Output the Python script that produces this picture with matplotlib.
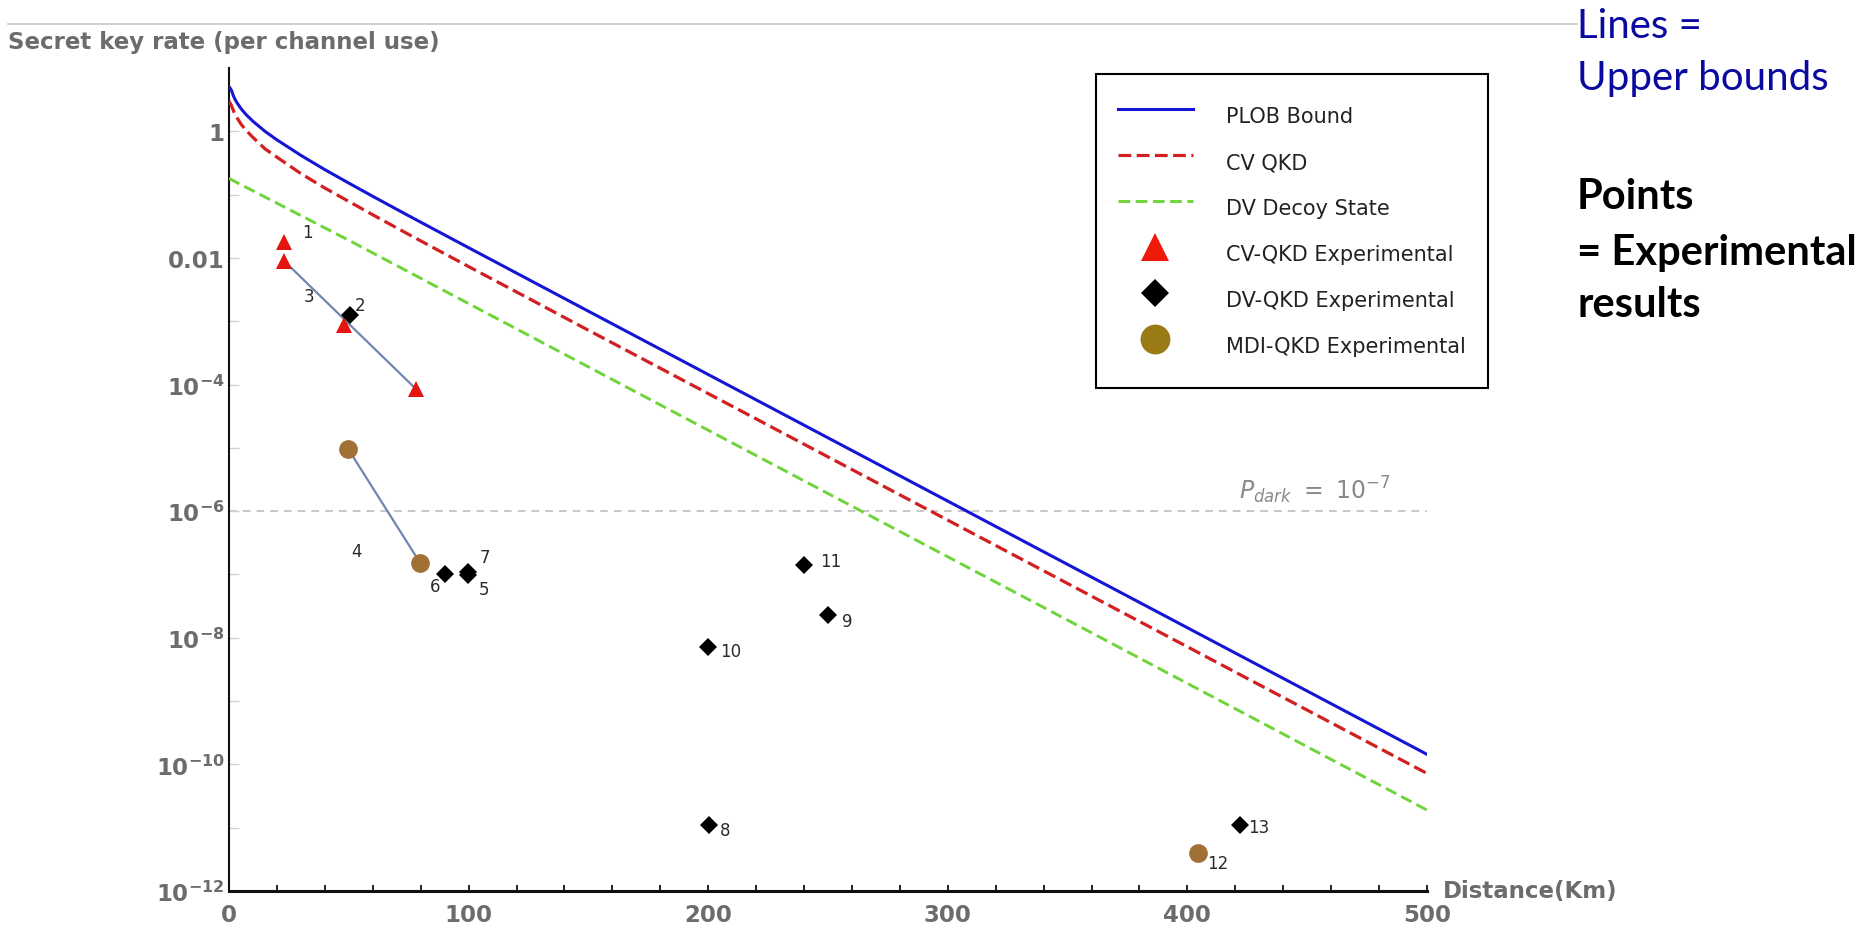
import numpy as np
import matplotlib
matplotlib.use("Agg")
import matplotlib.pyplot as plt
from matplotlib.lines import Line2D
from matplotlib.ticker import FixedLocator, MultipleLocator, NullLocator

W, H = 1869, 928

# upper bound curves (distance in km, rate per channel use)
dist_bound = [0, 1, 2, 3, 5, 7, 10, 15, 20, 30, 40, 50, 60, 75, 100, 125, 150, 200, 300, 400, 500]
rate_plob = [5.1, 4.47, 3.51, 2.95, 2.28, 1.86, 1.44, 1.0, 0.733, 0.417, 0.248, 0.152, 0.094,
             0.0463, 0.0145, 4.57e-3, 1.44e-3, 1.44e-4, 1.44e-6, 1.44e-8, 1.44e-10]
rate_cv = [3.0, 2.55, 2.05, 1.72, 1.30, 1.05, 0.80, 0.53, 0.39, 0.215, 0.127, 0.078, 0.048,
           0.0235, 7.3e-3, 2.3e-3, 7.2e-4, 7.2e-5, 7.2e-7, 7.2e-9, 7.2e-11]
dist_decoy = [0, 50, 100, 200, 300, 400, 500]
rate_decoy = [0.18, 0.019, 1.9e-3, 1.9e-5, 1.9e-7, 1.9e-9, 1.9e-11]

# experimental points
cv_dist = [23.1, 23.1, 48.1, 77.9]
cv_rate = [0.0178, 0.0089, 8.7e-4, 8.6e-5]
cv_ids = ["1", "3", None, None]

dv_dist = [50.5, 90.2, 99.9, 99.9, 200.4, 200.0, 250.1, 240.0, 421.8]
dv_rate = [1.24e-3, 1.03e-7, 1.1e-7, 9.7e-8, 1.1e-11, 7.1e-9, 2.26e-8, 1.41e-7, 1.1e-11]
dv_ids = ["2", "6", "7", "5", "8", "10", "9", "11", "13"]

mdi_dist = [49.8, 79.7, 404.4]
mdi_rate = [9.5e-6, 1.54e-7, 4.0e-12]
mdi_ids = ["4", None, "12"]

# which points are joined by a thin line
cv_link = [1, 3]
mdi_link = [0, 1]

p_dark = 1e-6

x_ticks = [0, 100, 200, 300, 400, 500]
y_tick_exp = list(range(-12, 1))

# label offsets in points (dx, dy) from the marker
LABEL_OFFSETS = {
    "1": (12.5, 7.2), "3": (14.2, -24.9), "2": (3.6, 7.7), "4": (2.2, -73.4),
    "6": (-10.8, -8.6), "7": (8.1, 10.8), "5": (7.6, -10.1), "11": (11.5, 2.9),
    "9": (9.6, -4.1), "10": (8.9, -3.1), "8": (7.9, -3.6), "13": (6.0, -1.4),
    "12": (6.8, -7.0),
}

GRAY = "#6c6c6c"
BLUE = "#1515d6"
RED = "#d21f1f"
GREEN = "#6fd43a"
TRI = "#e3150f"
BROWN = "#a07035"
LINK = "#6f86b0"


def fx(px):
    return px / W


def fy(py):
    return 1 - py / H


fig = plt.figure(figsize=(W / 100, H / 100), dpi=100)
ax = fig.add_axes([fx(229), fy(892), fx(1427) - fx(229), fy(69) - fy(892)])
ax.set_yscale("log")
ax.set_xlim(0, 500)
ax.set_ylim(1e-12, 10)

# bounds
ax.plot(dist_bound, rate_plob, color=BLUE, lw=2.2, zorder=3)
ax.plot(dist_bound, rate_cv, color=RED, lw=2.3, dashes=(4, 1.7), zorder=3)
ax.plot(dist_decoy, rate_decoy, color=GREEN, lw=2.1, dashes=(4, 1.9), zorder=3)
ax.axhline(p_dark, color="#b8b8b8", lw=1.1, dashes=(5, 4), zorder=1)
ax.text(421.5, p_dark * 1.25, r"$\mathit{P_{dark}}\ =\ \mathit{10^{-7}}$", fontsize=17,
        color="#8a8a8a", ha="left", va="bottom")

# links between experimental points
ax.plot([cv_dist[i] for i in cv_link], [cv_rate[i] for i in cv_link], color=LINK, lw=1.6, zorder=4)
ax.plot([mdi_dist[i] for i in mdi_link], [mdi_rate[i] for i in mdi_link], color=LINK, lw=1.6, zorder=4)

ax.plot(cv_dist, cv_rate, ls="none", marker="^", ms=11.5, color=TRI, mew=0, zorder=5)
ax.plot(dv_dist, dv_rate, ls="none", marker="D", ms=9.4, color="black", mew=0, zorder=6)
ax.plot(mdi_dist, mdi_rate, ls="none", marker="o", ms=13.5, color=BROWN, mew=0, zorder=5)

for ds, rs, ids in [(cv_dist, cv_rate, cv_ids), (dv_dist, dv_rate, dv_ids), (mdi_dist, mdi_rate, mdi_ids)]:
    for d, r, lab in zip(ds, rs, ids):
        if lab is None:
            continue
        ax.annotate(lab, (d, r), xytext=LABEL_OFFSETS[lab], textcoords="offset points",
                    ha="left", va="center", fontsize=12, color="#2a2a2a", zorder=7)

# axes look
for s in ["top", "right"]:
    ax.spines[s].set_visible(False)
ax.spines["left"].set_linewidth(1.5)
ax.spines["left"].set_color("#111111")
ax.spines["bottom"].set_linewidth(2.2)
ax.spines["bottom"].set_color("#111111")

ax.xaxis.set_major_locator(FixedLocator(x_ticks))
ax.xaxis.set_minor_locator(MultipleLocator(20))
ax.tick_params(axis="x", which="both", direction="in", length=4, width=1.2, color="black", pad=9)
ax.set_xticklabels([str(t) for t in x_ticks], fontsize=16.5, fontweight="bold", color=GRAY)

ylabels = []
for e in y_tick_exp:
    if e % 2:
        ylabels.append("")
    elif e == 0:
        ylabels.append("1")
    elif e == -2:
        ylabels.append("0.01")
    else:
        ylabels.append(r"$\mathbf{10^{%d}}$" % e)
ax.yaxis.set_major_locator(FixedLocator([10.0 ** e for e in y_tick_exp]))
ax.yaxis.set_minor_locator(NullLocator())
ax.set_yticklabels(ylabels, fontsize=16.5, fontweight="bold", color=GRAY)
ax.tick_params(axis="y", direction="in", length=7, width=1, color="#d0d0d0", pad=3)

ax.text(1.0134, 0, "Distance(Km)", transform=ax.transAxes, ha="left", va="center",
        fontsize=16.5, fontweight="bold", color=GRAY)
fig.text(fx(8), fy(43), "Secret key rate (per channel use)", ha="left", va="center",
         fontsize=16.5, fontweight="bold", color=GRAY)

# legend
handles = [
    Line2D([], [], color=BLUE, lw=2.2),
    Line2D([], [], color=RED, lw=2.3, dashes=(4, 1.7)),
    Line2D([], [], color=GREEN, lw=2.1, dashes=(4, 1.9)),
    Line2D([], [], ls="none", marker="^", ms=20, color="#f01a0a", mew=0),
    Line2D([], [], ls="none", marker="D", ms=14.3, color="black", mew=0),
    Line2D([], [], ls="none", marker="o", ms=21.5, color="#9b7b16", mew=0),
]
names = ["PLOB Bound", "CV QKD", "DV Decoy State", "CV-QKD Experimental",
         "DV-QKD Experimental", "MDI-QKD Experimental"]
leg = ax.legend(handles, names, loc="upper left", bbox_to_anchor=(fx(1096), fy(75)),
                bbox_transform=fig.transFigure, borderaxespad=0, fontsize=15,
                frameon=True, fancybox=False, framealpha=1, edgecolor="black",
                borderpad=1.05, handleheight=2.6, labelspacing=0.27, handlelength=3.6,
                handletextpad=1.6, numpoints=1)
leg.get_frame().set_linewidth(1.5)
for t in leg.get_texts():
    t.set_color("#222222")

# thin rule on top and the side notes
fig.add_artist(Line2D([fx(8), fx(1577)], [fy(25), fy(25)], transform=fig.transFigure,
                      color="#c8c8c8", lw=1.2))
side = ["Lato", "DejaVu Sans"]
fig.text(fx(1577), fy(38), "Lines =", family=side, fontsize=29, color="#0a0aa0", va="baseline")
fig.text(fx(1577), fy(90), "Upper bounds", family=side, fontsize=29, color="#0a0aa0", va="baseline")
fig.text(fx(1577), fy(209), "Points", family=side, fontsize=30, fontweight="bold", color="black", va="baseline")
fig.text(fx(1577), fy(265), "= Experimental", family=side, fontsize=30, fontweight="bold", color="black", va="baseline")
fig.text(fx(1577), fy(317), "results", family=side, fontsize=30, fontweight="bold", color="black", va="baseline")

fig.savefig("out.png", dpi=100)
